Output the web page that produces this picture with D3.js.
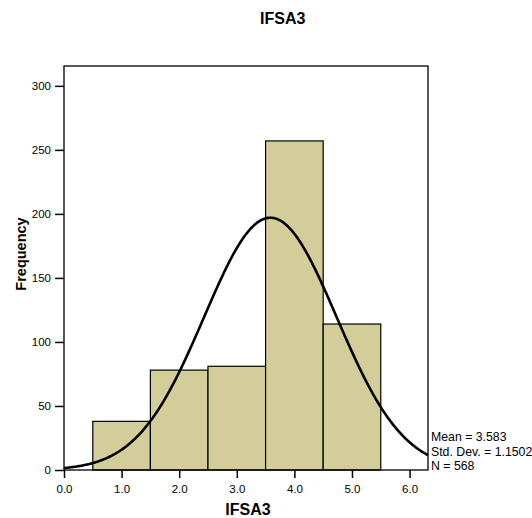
<!DOCTYPE html>
<html>
<head>
<meta charset="utf-8">
<script src="https://cdn.jsdelivr.net/npm/d3@7"></script>
<style>
body { margin: 0; background: #fff; }
text { font-family: "Liberation Sans", Arial, sans-serif; }
</style>
</head>
<body>
<svg width="532" height="518"></svg>
<script>
// histogram bins (bin centres) and counts
var binCenters = [1, 2, 3, 4, 5];
var counts = [38, 78, 81, 257, 114];
var xTicks = [0, 1, 2, 3, 4, 5, 6];
var yTicks = [0, 50, 100, 150, 200, 250, 300];
var mean = 3.583, sd = 1.1502, n = 568;
var statLines = ["Mean = 3.583", "Std. Dev. = 1.1502", "N = 568"];

var svg = d3.select("svg"),
    margin = {top: 66, right: 104, bottom: 48, left: 64},
    width = +svg.attr("width") - margin.left - margin.right,
    height = +svg.attr("height") - margin.top - margin.bottom,
    g = svg.append("g").attr("transform", "translate(" + margin.left + "," + margin.top + ")");

var x = d3.scaleLinear().domain([0, 6.32]).range([0, width]);
var y = d3.scaleLinear().domain([0, 315.5]).range([height, 0]);

// bars
g.selectAll("rect.bar")
    .data(binCenters)
    .enter().append("rect")
    .attr("class", "bar")
    .attr("x", function(d) { return x(d - 0.5); })
    .attr("y", function(d, i) { return y(counts[i]); })
    .attr("width", function(d) { return x(d + 0.5) - x(d - 0.5); })
    .attr("height", function(d, i) { return height - y(counts[i]); })
    .attr("fill", "#d3ce99")
    .attr("stroke", "#000")
    .attr("stroke-width", 1.2);

// normal curve
var pts = d3.range(0, 6.321, 0.02).map(function(v) {
    var z = (v - mean) / sd;
    return [v, n * Math.exp(-0.5 * z * z) / (sd * Math.sqrt(2 * Math.PI))];
});
g.append("path")
    .datum(pts)
    .attr("fill", "none")
    .attr("stroke", "#000")
    .attr("stroke-width", 2.6)
    .attr("d", d3.line().x(function(d) { return x(d[0]); }).y(function(d) { return y(d[1]); }));

// frame
g.append("rect")
    .attr("width", width).attr("height", height)
    .attr("fill", "none").attr("stroke", "#000").attr("stroke-width", 1.3);

// axes
var xAxis = g.append("g")
    .attr("transform", "translate(0," + height + ")")
    .call(d3.axisBottom(x).tickValues(xTicks).tickFormat(d3.format(".1f")).tickSize(8).tickPadding(7));
var yAxis = g.append("g")
    .call(d3.axisLeft(y).tickValues(yTicks).tickSize(9).tickPadding(4));
[xAxis, yAxis].forEach(function(a) {
    a.select(".domain").remove();
    a.selectAll("line").attr("stroke", "#000").attr("stroke-width", 1.5);
    a.selectAll("text").attr("font-size", 11.5).attr("fill", "#000")
        .style("font-family", "'Liberation Sans', Arial, sans-serif");
});

// titles
svg.append("text")
    .attr("x", 260).attr("y", 24)
    .attr("text-anchor", "start")
    .attr("font-size", 16).attr("font-weight", "bold")
    .text("IFSA3");
svg.append("text")
    .attr("x", margin.left + width / 2 + 2).attr("y", 515)
    .attr("text-anchor", "middle")
    .attr("font-size", 16).attr("font-weight", "bold")
    .text("IFSA3");
svg.append("text")
    .attr("transform", "translate(26,254) rotate(-90)")
    .attr("text-anchor", "middle")
    .attr("font-size", 14.5).attr("font-weight", "bold")
    .text("Frequency");

// stats
svg.append("g").selectAll("text")
    .data(statLines)
    .enter().append("text")
    .attr("x", margin.left + width + 3)
    .attr("y", function(d, i) { return 441 + i * 14.5; })
    .attr("font-size", 12.3)
    .text(function(d) { return d; });
</script>
</body>
</html>
